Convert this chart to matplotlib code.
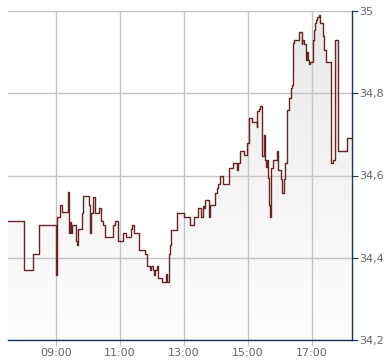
import matplotlib
matplotlib.use("Agg")
import matplotlib.pyplot as plt
import numpy as np

# intraday price steps, time as "HH:MM", price held until the next entry
times = ["07:30", "08:00", "08:16", "08:29", "09:00", "09:01", "09:08", "09:11",
         "09:22", "09:25", "09:26", "09:28", "09:30", "09:37", "09:40", "09:42",
         "09:48", "09:51", "10:01", "10:04", "10:05", "10:10", "10:13", "10:21",
         "10:24", "10:28", "10:32", "10:47", "10:51", "10:57", "11:06", "11:11",
         "11:21", "11:23", "11:26", "11:36", "11:47", "11:51", "11:56", "11:59",
         "12:02", "12:04", "12:05", "12:10", "12:12", "12:19", "12:26", "12:28",
         "12:31", "12:33", "12:36", "12:46", "13:00", "13:11", "13:19", "13:27",
         "13:31", "13:35", "13:37", "13:40", "13:46", "13:48", "13:58", "14:01",
         "14:04", "14:07", "14:13", "14:25", "14:31", "14:40", "14:41", "14:45",
         "14:52", "14:59", "15:01", "15:02", "15:07", "15:16", "15:17", "15:20",
         "15:22", "15:27", "15:30", "15:31", "15:33", "15:36", "15:38", "15:40",
         "15:41", "15:43", "15:44", "15:47", "15:54", "15:56", "16:01", "16:03",
         "16:07", "16:09", "16:13", "16:14", "16:17", "16:20", "16:23", "16:25",
         "16:27", "16:36", "16:41", "16:42", "16:45", "16:48", "16:50", "16:53",
         "16:55", "16:56", "17:02", "17:04", "17:06", "17:07", "17:10", "17:13",
         "17:15", "17:20", "17:23", "17:26", "17:36", "17:39", "17:44", "17:48",
         "18:05", "18:15"]
prices = [34.489, 34.370, 34.408, 34.479, 34.358, 34.498, 34.528, 34.512,
          34.559, 34.459, 34.488, 34.459, 34.479, 34.441, 34.430, 34.469,
          34.508, 34.549, 34.528, 34.459, 34.508, 34.548, 34.508, 34.520,
          34.489, 34.480, 34.450, 34.480, 34.489, 34.440, 34.459, 34.450,
          34.469, 34.479, 34.459, 34.419, 34.408, 34.380, 34.370, 34.380,
          34.370, 34.358, 34.370, 34.380, 34.350, 34.340, 34.360, 34.341,
          34.409, 34.431, 34.467, 34.508, 34.498, 34.479, 34.498, 34.520,
          34.498, 34.527, 34.520, 34.540, 34.498, 34.528, 34.558, 34.569,
          34.579, 34.599, 34.579, 34.619, 34.630, 34.613, 34.630, 34.660,
          34.650, 34.678, 34.698, 34.739, 34.729, 34.719, 34.758, 34.761,
          34.770, 34.648, 34.698, 34.638, 34.620, 34.638, 34.593, 34.528,
          34.500, 34.593, 34.618, 34.638, 34.660, 34.613, 34.591, 34.558,
          34.591, 34.630, 34.703, 34.759, 34.788, 34.812, 34.820, 34.921,
          34.929, 34.948, 34.920, 34.929, 34.919, 34.881, 34.900, 34.881,
          34.871, 34.877, 34.929, 34.954, 34.970, 34.978, 34.985, 34.990,
          34.970, 34.938, 34.905, 34.877, 34.630, 34.638, 34.929, 34.660,
          34.690, 34.690]

x_ticks = ["09:00", "11:00", "13:00", "15:00", "17:00"]
y_ticks = [34.2, 34.4, 34.6, 34.8, 35.0]


def to_min(s):
    h, m = s.split(":")
    return int(h) * 60 + int(m)


t = np.array([to_min(s) for s in times])
p = np.array(prices)

fig = plt.figure(figsize=(3.9, 3.64), dpi=100)
ax = fig.add_axes([8 / 390, 1 - 340 / 364, 344 / 390, 329 / 364])

x0, x1 = to_min("07:30"), to_min("18:15")
y0, y1 = 34.2, 35.0

# gradient fill under the line
fill = ax.fill_between(t, p, y0, step="post", facecolor="none", edgecolor="none")
grad = np.linspace(0, 1, 256).reshape(-1, 1)
img = ax.imshow(grad, extent=[x0, x1, y0, y1], aspect="auto", origin="lower",
                cmap=matplotlib.colors.LinearSegmentedColormap.from_list(
                    "g", ["#fefefe", "#e9e9e9"]), zorder=1)
img.set_clip_path(fill.get_paths()[0], transform=ax.transData)

ax.plot(t, p, drawstyle="steps-post", color="#6b2424", lw=1.0, zorder=3)

ax.set_xlim(x0, x1)
ax.set_ylim(y0, y1)
ax.set_xticks([to_min(s) for s in x_ticks])
ax.set_xticklabels(x_ticks)
ax.set_yticks(y_ticks)
ax.set_yticklabels([("%g" % v).replace(".", ",") for v in y_ticks])
ax.yaxis.tick_right()
ax.set_axisbelow(False)
ax.grid(True, color="#c4c4c4", lw=1.0, zorder=2)

for s in ["left", "top"]:
    ax.spines[s].set_visible(False)
for s in ["right", "bottom"]:
    ax.spines[s].set_color("#1c3460")
    ax.spines[s].set_linewidth(1.0)
    ax.spines[s].set_zorder(4)

ax.tick_params(axis="x", length=4, color="#c4c4c4", labelcolor="#666666",
               labelsize=8, pad=2)
ax.tick_params(axis="y", length=4, color="#1c3460", labelcolor="#666666",
               labelsize=8, pad=1)

fig.savefig("out.png", dpi=100)
